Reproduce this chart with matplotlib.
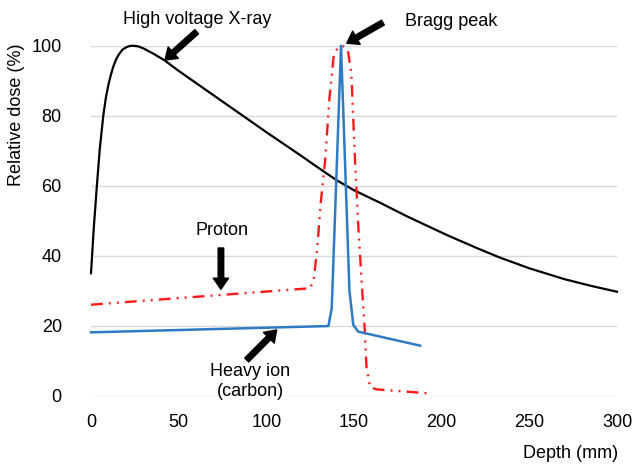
import matplotlib
matplotlib.use("Agg")
import matplotlib.pyplot as plt

plt.rcParams['font.family'] = ['Liberation Sans', 'DejaVu Sans']

# Data (depth in mm, relative dose in %)
xray_depth = [0, 1.6, 3.2, 5, 7, 8.5, 10, 11.4, 12.7, 14.3, 16, 18, 20.3, 22, 24, 27, 30, 36, 42, 50, 60,
              70, 80, 90, 100, 110, 120, 130, 140, 150, 165, 180, 203, 220, 233, 250, 270, 285, 300]
xray_dose = [35, 48, 59, 70.5, 80, 85.2, 89, 91.8, 94, 96.1, 97.6, 98.9, 99.6, 99.9, 100, 99.8, 99.2, 97.6,
             95.8, 92.8, 89.3, 85.8, 82.3, 78.8, 75.3, 71.9, 68.5, 65.0, 61.6, 58.7, 55.1, 51.3, 45.9,
             42.2, 39.5, 36.4, 33.3, 31.4, 29.7]

proton_depth = [0, 125, 127, 129, 131, 133.5, 136, 138.5, 141, 144, 146.5, 148.5, 150.6, 152.5, 154.3, 156, 157.1, 159.2, 163, 192]
proton_dose = [26, 30.7, 33, 42, 55, 67, 85, 97.5, 99.6, 99.8, 98.8, 92, 67, 48, 33, 20, 8.3, 2.4, 1.8, 0.7]

carbon_depth = [0, 135.4, 137.3, 142.6, 147.4, 149.6, 152.4, 187.7]
carbon_dose = [18.1, 19.9, 25, 100, 30, 20.2, 18.3, 14.3]

yticks = [0, 20, 40, 60, 80, 100]
xticks = [0, 50, 100, 150, 200, 250, 300]

fig = plt.figure(figsize=(6.32, 4.66), dpi=100)
ax = fig.add_axes([91/632, 1 - 395.7/466, (617-91)/632, 350/466])

ax.plot(xray_depth, xray_dose, color='black', lw=1.6, clip_on=False, zorder=3)
ax.plot(proton_depth, proton_dose, color='#ff1a1a', lw=1.7, clip_on=False, zorder=3,
        linestyle=(0, (5, 2.6, 0.8, 2.6, 0.8, 2.6)), dash_capstyle='butt')
ax.plot(carbon_depth, carbon_dose, color='#2e7bc4', lw=1.8, clip_on=False, zorder=4)

ax.set_xlim(0, 300)
ax.set_ylim(0, 100)
ax.set_xticks(xticks)
ax.set_yticks(yticks)
ax.tick_params(length=0, labelsize=13, colors='black', pad=13)
ax.tick_params(axis='y', pad=21)
for s in ax.spines.values():
    s.set_visible(False)
ax.grid(axis='y', color='#d9d9d9', lw=1)
ax.set_axisbelow(True)

fig.text(17/632, 1 - 115/466, 'Relative dose (%)', rotation=90, ha='center', va='center', fontsize=13)
fig.text(618/632, 1 - 453/466, 'Depth (mm)', ha='right', va='center', fontsize=13)

arrow = dict(facecolor='black', edgecolor='black', width=4, headwidth=11, headlength=8, shrink=0)

def ann(text, tail, head, textpos):
    ax.annotate('', xy=head, xytext=tail, xycoords='data', textcoords='data',
                arrowprops=arrow, annotation_clip=False)
    ax.text(textpos[0], textpos[1], text, ha='center', va='center', fontsize=13,
            clip_on=False, linespacing=1.2)

ann('High voltage X-ray', (60.3, 104), (42.2, 95.9), (60.4, 107.6))
ann('Bragg peak', (166.5, 106.6), (145.9, 100.7), (205.5, 106.8))
ann('Proton', (74.1, 42.2), (74.1, 30.4), (74.5, 47.3))
ann('Heavy ion\n(carbon)', (88.8, 10.2), (105.9, 18.8), (90.7, 4.0))

fig.savefig('out.png', dpi=100)
